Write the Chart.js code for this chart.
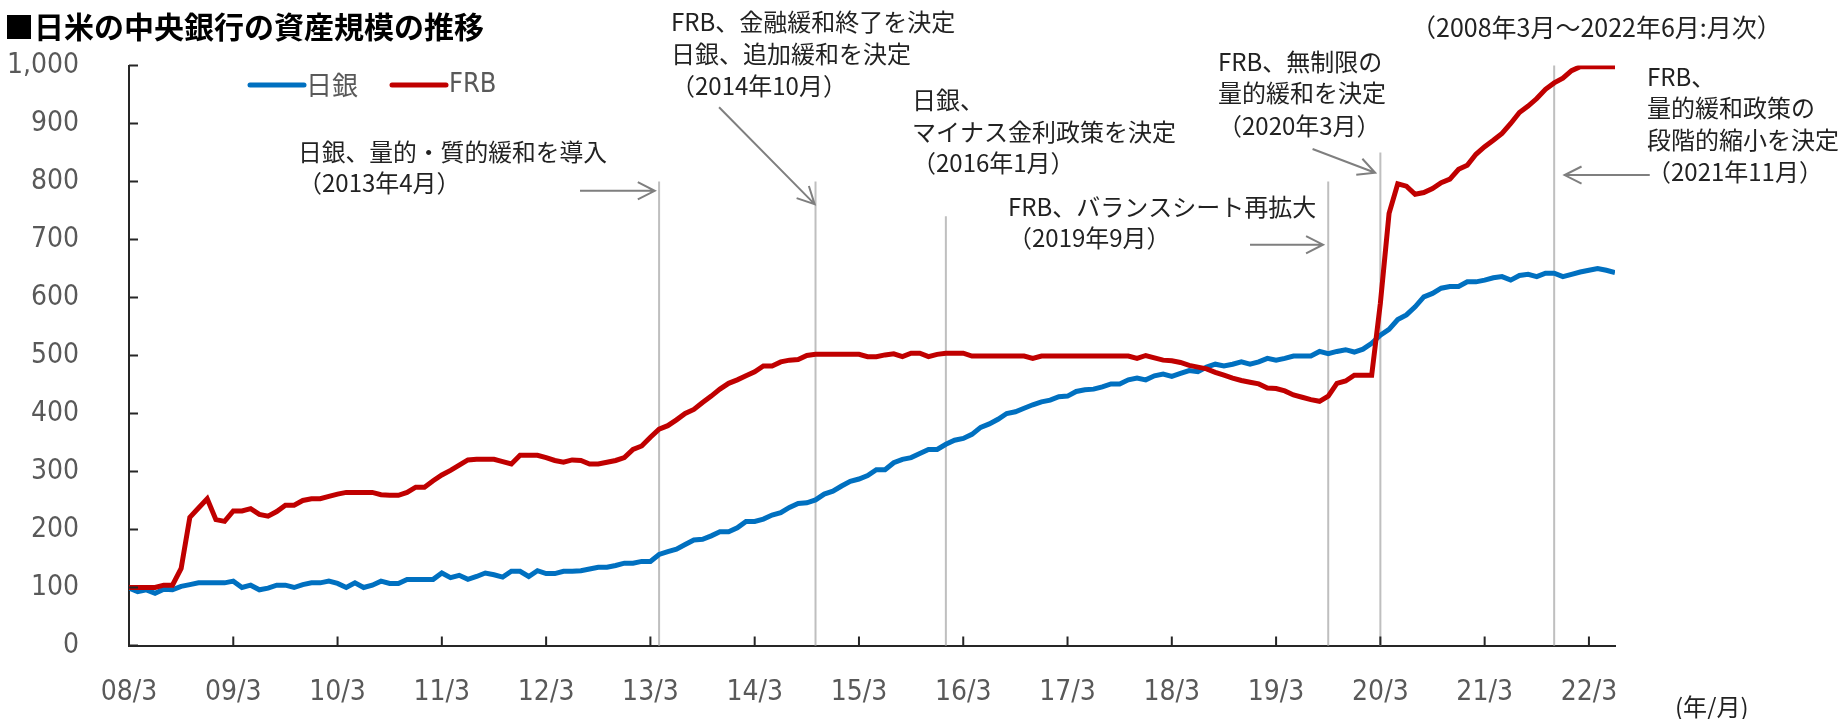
<!DOCTYPE html>
<html lang="ja">
<head>
<meta charset="utf-8">
<title>日米の中央銀行の資産規模の推移</title>
<script src="https://cdn.jsdelivr.net/npm/chart.js@4.4.1/dist/chart.umd.min.js"></script>
<style>
html, body { margin: 0; padding: 0; background: #fff; }
#wrap { width: 1842px; height: 719px; position: relative; }
</style>
</head>
<body>
<div id="wrap"><canvas id="myChart"></canvas></div>
<script>
// 2008/3 = 100, monthly index, 2008/3 .. 2022/6 (172 months)
var tickLabels = ['08/3','09/3','10/3','11/3','12/3','13/3','14/3','15/3','16/3','17/3','18/3','19/3','20/3','21/3','22/3'];
var tickIdx = [0,12,24,36,48,60,72,84,96,108,120,132,144,156,168];

var bojSeries = [
  99, 93, 96, 90, 97, 96,102,105,108,108,108,108,
 111,100,104, 96, 99,104,104,100,105,108,108,111,
 107,100,108,100,104,111,107,107,114,114,114,114,
 125,117,121,114,119,125,122,118,128,128,119,129,
 124,124,128,128,129,132,135,135,138,142,142,145,
 145,157,162,166,174,182,183,189,196,196,203,214,
 214,218,225,229,238,245,246,251,261,266,275,283,
 287,293,303,303,315,321,324,331,338,338,347,354,
 357,364,376,382,390,400,403,409,415,420,423,429,
 430,438,441,442,446,451,451,458,461,458,465,468,
 464,469,474,472,480,485,482,485,489,485,489,495,
 492,495,499,499,499,507,503,507,510,506,511,521,
 535,545,562,570,584,601,607,616,619,619,627,627,
 630,634,636,630,638,640,636,642,642,636,640,644,
 647,650,647,643
];

var frbSeries = [
 100,100,100,100,104,104,133,221,237,253,217,214,
 232,232,236,226,223,231,242,242,250,253,253,257,
 261,264,264,264,264,260,259,259,264,273,273,284,
 294,302,311,320,321,321,321,317,313,328,328,328,
 324,319,316,320,319,313,313,316,319,324,338,344,
 359,373,379,389,400,407,419,430,442,452,458,465,
 472,482,482,489,492,493,500,502,502,502,502,502,
 502,498,498,501,503,498,504,504,498,502,504,504,
 504,499,499,499,499,499,499,499,495,499,499,499,
 499,499,499,499,499,499,499,499,495,500,496,492,
 491,488,483,480,477,471,466,461,457,454,451,444,
 443,439,432,428,424,421,430,452,456,466,466,466,
 590,745,796,792,778,781,788,798,804,821,828,847,
 860,871,883,900,919,930,943,959,970,978,991,998,
 998,998,998,998
];

// policy events: month index and top of the marker line
var eventIdx = [61, 79, 94, 138, 144, 164];
var eventTop = [800, 800, 740, 800, 850, 1000];

// arrows in data coordinates [monthIndex, value]
var arrowFrom = [[51.9,784],[67.9,928],[129.0,691],[136.2,856],[175.0,811]];
var arrowTo   = [[60.5,784],[78.9,761],[137.4,691],[143.4,815],[165.2,811]];

// annotation texts (left x, line centres in px)
var noteX = [298, 671, 912, 1008, 1218, 1647];
var noteY = [[152,183],[22,54,86],[100,132,163],[207,238],[62,93,126],[77,108,140,172]];
var noteText = [
  ['日銀、量的・質的緩和を導入','（2013年4月）'],
  ['FRB、金融緩和終了を決定','日銀、追加緩和を決定','（2014年10月）'],
  ['日銀、','マイナス金利政策を決定','（2016年1月）'],
  ['FRB、バランスシート再拡大','（2019年9月）'],
  ['FRB、無制限の','量的緩和を決定','（2020年3月）'],
  ['FRB、','量的緩和政策の','段階的縮小を決定','（2021年11月）']
];

var JP = '"Noto Sans CJK JP", sans-serif';
var NUM = '"DejaVu Sans Condensed", "DejaVu Sans", sans-serif';

var months = bojSeries.map(function(v, i){ return i; });

var eventLines = {
  id: 'eventLines',
  beforeDatasetsDraw: function(chart){
    var ctx = chart.ctx, x = chart.scales.x, y = chart.scales.y;
    ctx.save();
    ctx.strokeStyle = '#BFBFBF';
    ctx.lineWidth = 2;
    eventIdx.forEach(function(m, i){
      var px = x.getPixelForValue(m);
      ctx.beginPath();
      ctx.moveTo(px, y.getPixelForValue(eventTop[i]));
      ctx.lineTo(px, y.getPixelForValue(0));
      ctx.stroke();
    });
    ctx.restore();
  }
};

var decorations = {
  id: 'decorations',
  afterDraw: function(chart){
    var ctx = chart.ctx, x = chart.scales.x, y = chart.scales.y;
    ctx.save();

    // inner tick marks
    ctx.strokeStyle = '#262626';
    ctx.lineWidth = 2;
    ctx.beginPath();
    x.ticks.forEach(function(t){
      var px = x.getPixelForValue(t.value);
      ctx.moveTo(px, x.top);
      ctx.lineTo(px, x.top - 9);
    });
    y.ticks.forEach(function(t){
      var py = y.getPixelForValue(t.value);
      ctx.moveTo(y.right, py);
      ctx.lineTo(y.right + 9, py);
    });
    ctx.stroke();

    // arrows
    ctx.strokeStyle = '#7F7F7F';
    ctx.lineWidth = 2;
    arrowFrom.forEach(function(a, i){
      var x1 = x.getPixelForValue(a[0]), y1 = y.getPixelForValue(a[1]);
      var x2 = x.getPixelForValue(arrowTo[i][0]), y2 = y.getPixelForValue(arrowTo[i][1]);
      var ang = Math.atan2(y2 - y1, x2 - x1), h = 19, w = 0.47;
      ctx.beginPath();
      ctx.moveTo(x1, y1); ctx.lineTo(x2, y2);
      ctx.moveTo(x2 - h * Math.cos(ang - w), y2 - h * Math.sin(ang - w));
      ctx.lineTo(x2, y2);
      ctx.lineTo(x2 - h * Math.cos(ang + w), y2 - h * Math.sin(ang + w));
      ctx.stroke();
    });

    // annotation texts
    ctx.fillStyle = '#222';
    ctx.font = '24px ' + JP;
    ctx.textBaseline = 'middle';
    ctx.textAlign = 'left';
    noteText.forEach(function(lines, i){
      lines.forEach(function(s, j){
        if (i === 0 && j === 0) ctx.fillText(s, noteX[i], noteY[i][j], 309);
        else ctx.fillText(s, noteX[i], noteY[i][j]);
      });
    });

    // title, period, unit
    ctx.fillStyle = '#000';
    ctx.font = 'bold 30px ' + JP;
    ctx.fillText('■日米の中央銀行の資産規模の推移', 4, 27);
    ctx.fillStyle = '#222';
    ctx.font = '25px ' + JP;
    ctx.fillText('（2008年3月～2022年6月:月次）', 1411, 27);
    ctx.font = '24px ' + JP;
    ctx.fillText('(年/月)', 1675, 707);

    // legend
    var items = [[250, 304, 306], [392, 446, 449]];
    ctx.lineWidth = 5;
    ctx.lineCap = 'round';
    chart.data.datasets.forEach(function(ds, i){
      var it = items[i];
      ctx.strokeStyle = ds.borderColor;
      ctx.beginPath();
      ctx.moveTo(it[0], 85); ctx.lineTo(it[1], 85);
      ctx.stroke();
      ctx.fillStyle = '#595959';
      ctx.font = (i === 0 ? '26px ' + JP : '27px ' + NUM);
      ctx.fillText(ds.label, it[2], 85);
    });
    ctx.restore();
  }
};

var ctx = document.getElementById('myChart');
var myChart = new Chart(ctx, {
  type: 'line',
  data: {
    datasets: [
      {
        label: '日銀',
        data: bojSeries.map(function(v, i){ return {x: months[i], y: v}; }),
        borderColor: '#0070C0',
        borderWidth: 5,
        pointRadius: 0,
        tension: 0,
        order: 1
      },
      {
        label: 'FRB',
        data: frbSeries.map(function(v, i){ return {x: months[i], y: v}; }),
        borderColor: '#C00000',
        borderWidth: 5,
        pointRadius: 0,
        tension: 0,
        order: 0
      }
    ]
  },
  options: {
    responsive: true,
    maintainAspectRatio: false,
    animation: false,
    layout: { padding: { left: 0, top: 65.5, right: 227, bottom: 0 } },
    plugins: {
      legend: { display: false },
      tooltip: { enabled: false },
      title: { display: false }
    },
    scales: {
      x: {
        type: 'linear',
        min: 0,
        max: 171,
        grid: { display: false },
        border: { display: true, color: '#262626', width: 2 },
        afterBuildTicks: function(s){ s.ticks = tickIdx.map(function(v){ return {value: v}; }); },
        afterFit: function(s){ s.height = 73.5; },
        ticks: {
          autoSkip: false,
          maxRotation: 0,
          padding: 22,
          color: '#595959',
          font: { family: NUM, size: 28 },
          callback: function(v, i){ return tickLabels[i]; }
        }
      },
      y: {
        min: 0,
        max: 1000,
        grid: { display: false },
        border: { display: true, color: '#262626', width: 2 },
        afterFit: function(s){ s.width = 129; },
        ticks: {
          stepSize: 100,
          padding: 42,
          color: '#595959',
          font: { family: NUM, size: 28 },
          callback: function(v){ return v.toLocaleString('en-US'); }
        }
      }
    }
  },
  plugins: [eventLines, decorations]
});
</script>
</body>
</html>
